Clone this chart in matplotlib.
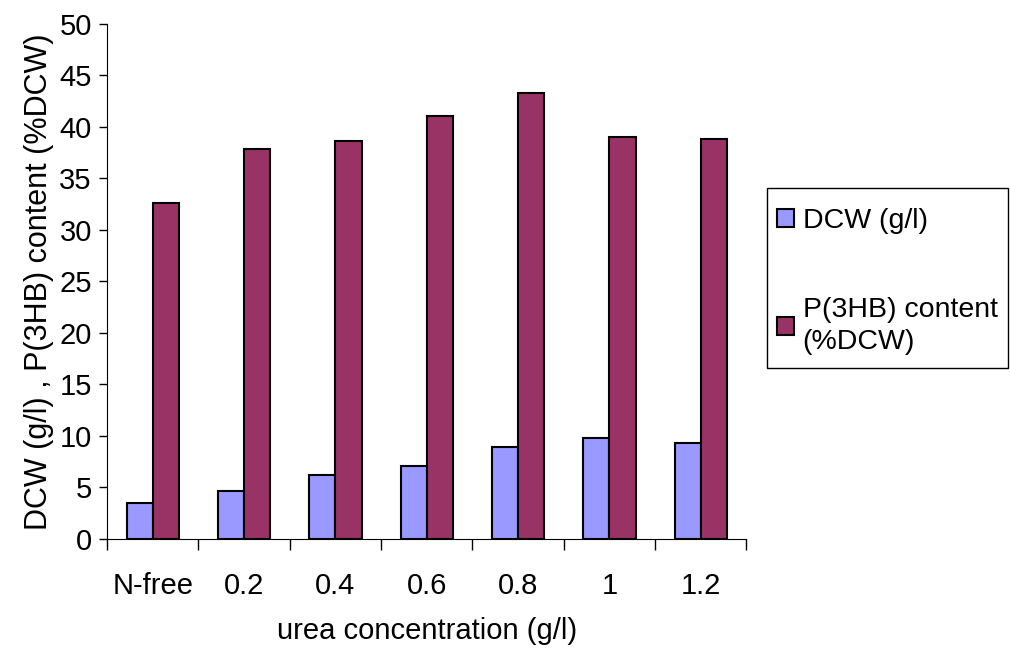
import matplotlib.pyplot as plt
from matplotlib.patches import Rectangle
import numpy as np

plt.rcParams['font.family'] = ['Liberation Sans', 'DejaVu Sans']

categories = ['N-free', '0.2', '0.4', '0.6', '0.8', '1', '1.2']
dcw = [3.5, 4.6, 6.2, 7.1, 8.9, 9.8, 9.3]
p3hb = [32.6, 37.9, 38.6, 41.1, 43.3, 39.0, 38.8]

fig = plt.figure(figsize=(10.1, 6.57), dpi=100)
ax = fig.add_axes([0.106, 0.18, 0.633, 0.7835])

x = np.arange(len(categories))
w = 0.286
ax.bar(x - w / 2, dcw, w, color='#9999FF', edgecolor='black', linewidth=1.5, label='DCW (g/l)')
ax.bar(x + w / 2, p3hb, w, color='#993366', edgecolor='black', linewidth=1.5,
       label='P(3HB) content\n(%DCW)')

ax.set_xlim(-0.5, len(categories) - 0.5)
ax.set_ylim(0, 50)
ax.set_yticks(range(0, 51, 5))
ax.set_xticks(x)
ax.set_xticklabels(categories)
ax.set_xticks(np.arange(-0.5, len(categories), 1), minor=True)
ax.tick_params(axis='x', which='major', length=0, pad=24, labelsize=21)
ax.tick_params(axis='x', which='minor', length=8, width=1)
ax.tick_params(axis='y', length=6, width=1, labelsize=21, pad=5)

ax.spines['top'].set_visible(False)
ax.spines['right'].set_visible(False)

ax.set_xlabel('urea concentration (g/l)', fontsize=21, labelpad=12)
ax.set_ylabel('DCW (g/l) , P(3HB) content (%DCW)', fontsize=22, labelpad=4)

# legend frame drawn separately so its height can match the original
fig.patches.append(Rectangle((0.7594, 0.44), 0.2386, 0.274, transform=fig.transFigure,
                             facecolor='white', edgecolor='black', linewidth=1, zorder=0))
leg = fig.legend(loc='upper left', bbox_to_anchor=(0.7594, 0.698), fontsize=20.5,
                 frameon=False, handlelength=0.6, handleheight=0.6, handletextpad=0.3,
                 labelspacing=2.2, borderpad=0.35, borderaxespad=0)
for t in leg.get_texts():
    t.set_linespacing(1.3)

fig.savefig('out.png', dpi=100)
